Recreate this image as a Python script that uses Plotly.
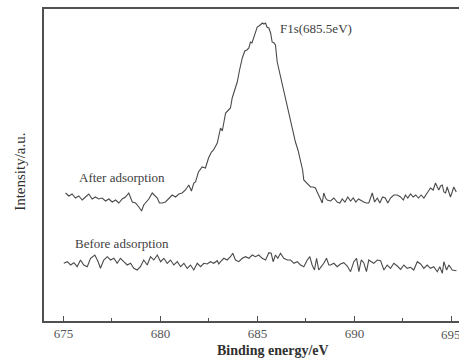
import plotly.graph_objects as go

# ---- data (binding energy in eV, intensity in arbitrary units) ----
energy_after = [
    675.11, 675.28, 675.45, 675.62, 675.79, 675.97, 676.14, 676.31, 676.48, 676.65,
    676.82, 677.00, 677.17, 677.34, 677.52, 677.69, 677.86, 678.03, 678.20, 678.37,
    678.55, 678.72, 678.89, 679.03, 679.14, 679.27, 679.40, 679.58, 679.71, 679.84,
    679.95, 680.09, 680.26, 680.43, 680.61, 680.78, 680.95, 681.12, 681.29, 681.46,
    681.60, 681.72,
    681.81, 681.96, 682.15, 682.32, 682.48, 682.63, 682.74, 682.93, 683.02, 683.10,
    683.19, 683.28, 683.36, 683.51, 683.61, 683.70, 683.82, 683.96, 684.08, 684.22,
    684.35, 684.46, 684.56, 684.64, 684.72, 684.81, 684.90, 684.99, 685.08, 685.16,
    685.26, 685.33, 685.42, 685.49, 685.59, 685.68, 685.76, 685.86, 685.93, 686.02,
    686.14, 686.24, 686.35, 686.45, 686.58, 686.71, 686.84, 686.96, 687.09, 687.22,
    687.33, 687.39, 687.48, 687.57, 687.66, 687.74, 687.87, 687.99, 688.08, 688.17,
    688.25, 688.34, 688.42, 688.51, 688.60,
    688.77, 688.94, 689.11, 689.25, 689.37, 689.51, 689.66, 689.80, 689.94, 690.07,
    690.21, 690.35, 690.48, 690.62, 690.74, 690.92, 691.04, 691.18, 691.31, 691.45,
    691.59, 691.72, 691.86, 692.03, 692.21, 692.38, 692.52, 692.63, 692.75, 692.89,
    693.03, 693.16, 693.30, 693.44, 693.58, 693.75, 693.92, 694.06, 694.18, 694.27,
    694.35, 694.44, 694.53, 694.61, 694.70, 694.78, 694.87, 694.95, 695.04, 695.12,
    695.25,
]
intensity_after = [
    128, 125, 127, 123, 125, 121, 124, 127, 122, 124,
    122, 123, 120, 122, 119, 121, 118, 122, 124, 128,
    119, 118, 114, 110, 116, 119, 122, 128, 125, 123,
    118, 118, 119, 122, 126, 124, 127, 128, 131, 136,
    130, 138,
    139, 149, 154, 153, 163, 169, 171, 178, 185, 193,
    190, 201, 208, 211, 213, 223, 231, 239, 251, 263,
    270, 271, 273, 279, 278, 284, 289, 294, 295, 296,
    298, 297, 298, 294, 293, 288, 279, 278, 276, 259,
    249, 239, 229, 221, 210, 199, 190, 179, 171, 161,
    151, 141, 139, 138, 135, 134, 134, 133, 129, 126,
    122, 118, 128, 123, 121,
    120, 123, 119, 118, 122, 119, 124, 120, 123, 119,
    122, 120, 119, 118, 118, 128, 119, 123, 118, 124,
    123, 118, 123, 126, 126, 124, 121, 126, 123, 127,
    124, 126, 123, 126, 123, 128, 133, 131, 138, 134,
    131, 135, 136, 129, 128, 134, 129, 124, 129, 134,
    129,
]

energy_before = [
    675.02, 675.20, 675.37, 675.54, 675.71, 675.88, 676.05, 676.23, 676.40, 676.62,
    676.79, 676.91, 677.08, 677.26, 677.43, 677.60, 677.77, 677.94, 678.11, 678.29,
    678.46, 678.63, 678.80, 678.97, 679.14, 679.32, 679.49, 679.66, 679.84, 680.01,
    680.18, 680.35, 680.52, 680.69, 680.87, 681.04, 681.21, 681.38, 681.55, 681.72,
    681.90, 682.07, 682.24, 682.41, 682.58, 682.75, 682.93, 683.01, 683.10, 683.27,
    683.44, 683.61, 683.73, 683.87, 684.04, 684.22, 684.39, 684.56, 684.73, 684.90,
    685.07, 685.25, 685.42, 685.59, 685.71, 685.81, 685.93, 686.05, 686.19, 686.36,
    686.54, 686.71, 686.88, 687.05, 687.22, 687.39, 687.57, 687.70, 687.82, 687.94,
    688.05, 688.16, 688.29, 688.42, 688.56, 688.68, 688.77, 688.94, 689.11, 689.28,
    689.45, 689.63, 689.80, 689.97, 690.11, 690.23, 690.35, 690.48, 690.62, 690.74,
    690.87, 691.00, 691.18, 691.35, 691.52, 691.69, 691.86, 692.03, 692.21, 692.38,
    692.55, 692.72, 692.89, 693.06, 693.24, 693.41, 693.58, 693.75, 693.92, 694.09,
    694.27, 694.40, 694.53, 694.61, 694.75, 694.87, 695.04, 695.26,
]
intensity_before = [
    57.7, 59.3, 56.0, 58.3, 54.3, 61.0, 56.0, 54.3, 62.7, 66.0,
    59.3, 52.7, 61.0, 64.3, 61.0, 62.7, 57.7, 62.7, 59.3, 56.0,
    57.7, 52.7, 51.0, 54.3, 61.0, 56.0, 64.3, 61.0, 66.0, 59.3,
    62.7, 57.7, 61.0, 56.0, 59.3, 54.3, 57.7, 52.7, 56.0, 51.0,
    57.7, 54.3, 57.7, 57.0, 59.3, 57.7, 60.3, 57.0, 59.3, 62.7,
    61.0, 64.3, 67.7, 61.0, 59.3, 62.7, 64.3, 62.7, 66.0, 64.3,
    66.0, 62.7, 61.0, 68.3, 67.7, 59.3, 66.0, 62.7, 67.7, 62.7,
    61.0, 61.0, 57.7, 59.3, 56.0, 54.3, 61.0, 64.3, 56.0, 51.0,
    62.7, 51.0, 54.3, 57.7, 62.7, 56.0, 56.0, 57.7, 54.3, 57.0,
    58.3, 55.0, 49.3, 59.3, 62.7, 49.3, 61.0, 58.3, 49.3, 61.0,
    59.3, 57.7, 61.0, 60.3, 51.0, 56.0, 52.7, 57.7, 55.0, 51.7,
    56.0, 52.7, 53.7, 51.0, 59.3, 57.0, 52.7, 56.0, 52.7, 54.3,
    49.3, 54.3, 47.7, 59.3, 51.0, 56.0, 51.0, 50.3,
]

x_tick_values = [675, 680, 685, 690, 695]
x_tick_labels = ["675", "680", "685", "690", "695"]

labels = ["After adsorption", "Before adsorption", "F1s(685.5eV)"]
label_x = [675.71, 675.52, 686.05]
label_y = [144, 78, 293]

LINE = "#4a4a4a"
AXIS = "#505050"
SERIF = "Liberation Serif, Times New Roman, serif"
TICKFONT = dict(family=SERIF, size=13, color="#555555")

fig = go.Figure()
fig.add_trace(go.Scatter(x=energy_after, y=intensity_after, mode="lines",
                         line=dict(color=LINE, width=1.1), showlegend=False))
fig.add_trace(go.Scatter(x=energy_before, y=intensity_before, mode="lines",
                         line=dict(color=LINE, width=1.1), showlegend=False))

for t, xx, yy in zip(labels, label_x, label_y):
    fig.add_annotation(x=xx, y=yy, xref="x", yref="y", text=t, showarrow=False,
                       xanchor="left", yanchor="middle",
                       font=dict(family=SERIF, size=13, color="#404040"))

# the last tick label sits at the page edge and is cut there, as in the original
shown_vals = x_tick_values[:-1]
shown_text = x_tick_labels[:-1]
fig.add_annotation(x=x_tick_values[-1], y=-0.042, xref="x", yref="paper",
                   text=x_tick_labels[-1], showarrow=False,
                   xanchor="center", yanchor="middle", font=TICKFONT)

# axis titles
fig.add_annotation(x=685.78, y=-0.093, xref="x", yref="paper",
                   text="<b>Binding energy/eV</b>", showarrow=False,
                   xanchor="center", yanchor="middle",
                   font=dict(family=SERIF, size=14, color="#303030"))
fig.add_annotation(x=-0.058, y=0.478, xref="paper", yref="paper",
                   text="Intensity/a.u.", showarrow=False, textangle=-90,
                   xanchor="center", yanchor="middle",
                   font=dict(family=SERIF, size=15, color="#303030"))

fig.update_layout(
    width=459, height=363,
    margin=dict(l=44, r=0, t=9, b=42),
    paper_bgcolor="white", plot_bgcolor="white",
    xaxis=dict(range=[674, 695.39], showgrid=False, zeroline=False,
               showline=True, linecolor=AXIS, linewidth=1.5, mirror=True,
               ticks="inside", ticklen=5, tickwidth=1.2, tickcolor=AXIS,
               tickvals=x_tick_values,
               ticktext=shown_text + [""],
               minor=dict(dtick=2.5, tick0=675, ticks="inside", ticklen=3,
                          tickwidth=1.1, tickcolor=AXIS, showgrid=False),
               tickfont=TICKFONT),
    yaxis=dict(range=[0, 312], showgrid=False, zeroline=False,
               showline=True, linecolor=AXIS, linewidth=1.5,
               showticklabels=False, ticks=""),
)

fig.write_html("out.html")
